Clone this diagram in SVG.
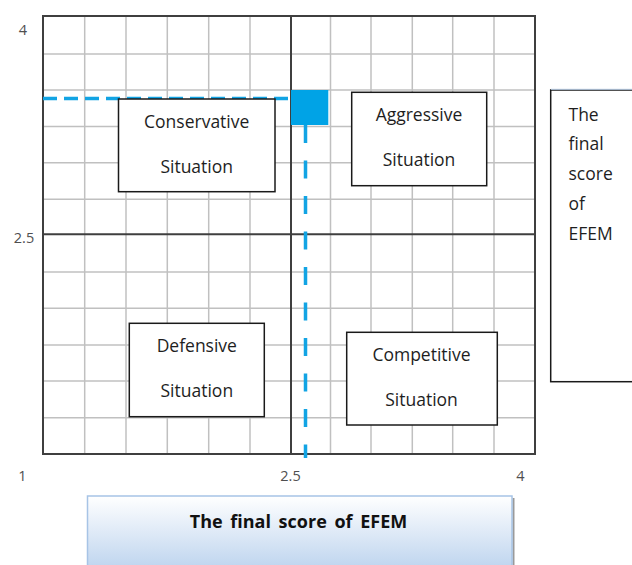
<svg xmlns="http://www.w3.org/2000/svg" width="632" height="565" viewBox="0 0 632 565">
<defs>
<linearGradient id="bg" x1="0" y1="0" x2="0" y2="1">
<stop offset="0" stop-color="#ffffff"/>
<stop offset="1" stop-color="#bcd3ee"/>
</linearGradient>
<style>
.grid line{stroke:#c0c0c0;stroke-width:1.5}
.frame{fill:none;stroke:#3f3f3f;stroke-width:2}
.mid{stroke:#3f3f3f;stroke-width:2}
.box{fill:#fff;stroke:#1a1a1a;stroke-width:1.5}
.t{font-family:"Open Sans","Liberation Sans",sans-serif;font-size:17.5px;fill:#1e1e1e;text-anchor:middle}
.tl{font-family:"Open Sans","Liberation Sans",sans-serif;font-size:17.5px;fill:#1e1e1e}
.ax{font-family:"Open Sans","Liberation Sans",sans-serif;font-size:14.5px;fill:#4f4f4f;text-anchor:middle}
.blue{stroke:#12a4e4;stroke-width:3.5;fill:none}
</style>
</defs>
<rect width="632" height="565" fill="#fff"/>
<g id="grid" class="grid">
<line x1="84.7" y1="16" x2="84.7" y2="454"/>
<line x1="126" y1="16" x2="126" y2="454"/>
<line x1="167.3" y1="16" x2="167.3" y2="454"/>
<line x1="208.7" y1="16" x2="208.7" y2="454"/>
<line x1="250" y1="16" x2="250" y2="454"/>
<line x1="330.5" y1="16" x2="330.5" y2="454"/>
<line x1="371" y1="16" x2="371" y2="454"/>
<line x1="412.3" y1="16" x2="412.3" y2="454"/>
<line x1="452.7" y1="16" x2="452.7" y2="454"/>
<line x1="494" y1="16" x2="494" y2="454"/>
<line x1="43" y1="54" x2="535" y2="54"/>
<line x1="43" y1="90" x2="535" y2="90"/>
<line x1="43" y1="126.5" x2="535" y2="126.5"/>
<line x1="43" y1="162.7" x2="535" y2="162.7"/>
<line x1="43" y1="199.3" x2="535" y2="199.3"/>
<line x1="43" y1="272" x2="535" y2="272"/>
<line x1="43" y1="308.3" x2="535" y2="308.3"/>
<line x1="43" y1="345" x2="535" y2="345"/>
<line x1="43" y1="381" x2="535" y2="381"/>
<line x1="43" y1="417.7" x2="535" y2="417.7"/>
</g>
<g id="axes">
<rect class="frame" x="43" y="16" width="492" height="438"/>
<line class="mid" x1="291" y1="16" x2="291" y2="454"/>
<line class="mid" x1="43" y1="234.3" x2="535" y2="234.3"/>
<text class="ax" x="23" y="35">4</text>
<text class="ax" x="24" y="243">2.5</text>
<text class="ax" x="22.5" y="481">1</text>
<text class="ax" x="290.5" y="481">2.5</text>
<text class="ax" x="520.5" y="481">4</text>
</g>
<g id="connectors">
<line class="blue" x1="43" y1="98.5" x2="291" y2="98.5" stroke-dasharray="14 7"/>
<line class="blue" x1="305.5" y1="125" x2="305.5" y2="458" stroke-dasharray="18 17.5"/>
<rect id="point" x="291" y="90" width="37.3" height="35" fill="#00a3e6"/>
</g>
<g id="conservative">
<rect class="box" x="118.5" y="99" width="156.5" height="92.7"/>
<text class="t" x="196.7" y="128">Conservative</text>
<text class="t" x="196.7" y="173">Situation</text>
</g>
<g id="aggressive">
<rect class="box" x="351.7" y="92.3" width="135" height="93.4"/>
<text class="t" x="419" y="120.8">Aggressive</text>
<text class="t" x="419" y="165.8">Situation</text>
</g>
<g id="defensive">
<rect class="box" x="129.3" y="323.3" width="135" height="93.4"/>
<text class="t" x="196.8" y="352">Defensive</text>
<text class="t" x="196.8" y="397">Situation</text>
</g>
<g id="competitive">
<rect class="box" x="346.7" y="332.3" width="150.6" height="92.7"/>
<text class="t" x="421.5" y="361">Competitive</text>
<text class="t" x="421.5" y="406">Situation</text>
</g>
<g id="y-axis-title">
<rect class="box" x="550.7" y="90" width="95" height="291.7"/>
<line x1="551" y1="89.3" x2="632" y2="89.3" stroke="#b8cde6" stroke-width="1"/>
<text class="tl" x="568.5" y="120.5">The</text>
<text class="tl" x="568.5" y="150.3">final</text>
<text class="tl" x="568.5" y="180.1">score</text>
<text class="tl" x="568.5" y="209.9">of</text>
<text class="tl" x="568.5" y="239.7">EFEM</text>
</g>
<g id="x-axis-title">
<line x1="513.5" y1="498" x2="513.5" y2="565" stroke="#9a9a9a" stroke-width="2"/>
<rect x="87.5" y="496" width="424.5" height="75" fill="url(#bg)" stroke="#a7c4e6" stroke-width="1.5"/>
<text x="298.5" y="528" font-family="'Open Sans','Liberation Sans',sans-serif" font-size="18" font-weight="bold" word-spacing="3" fill="#111" text-anchor="middle">The final score of EFEM</text>
</g>
</svg>
